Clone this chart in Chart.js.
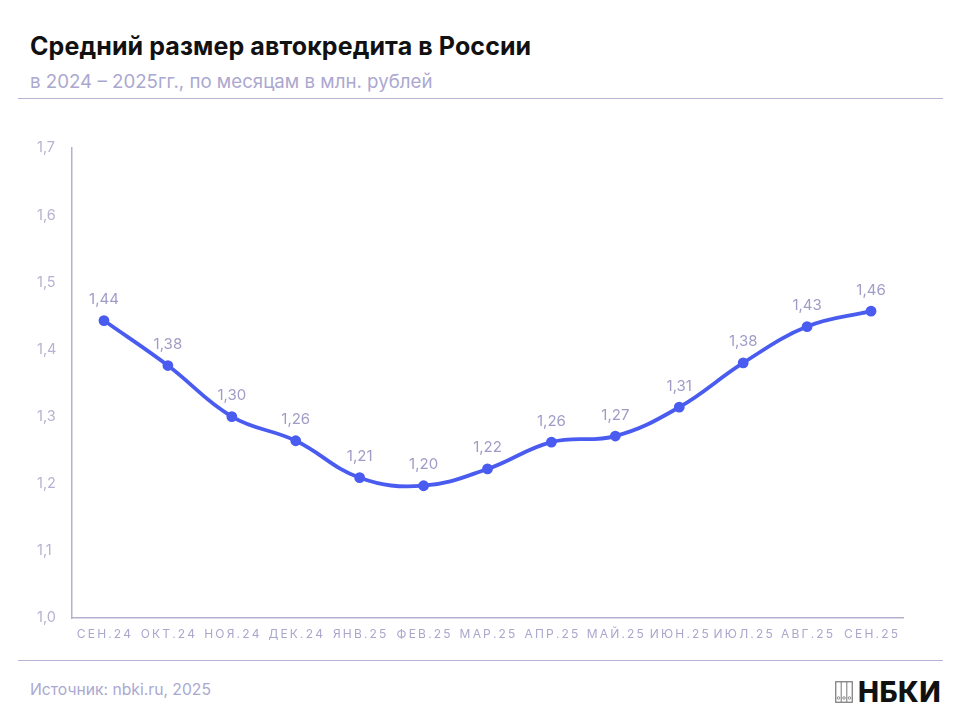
<!DOCTYPE html>
<html>
<head>
<meta charset="utf-8">
<script src="https://cdn.jsdelivr.net/npm/chart.js@4"></script>
<style>
  html, body { margin: 0; padding: 0; background: #fff; }
  body { width: 960px; height: 720px; position: relative; overflow: hidden; font-family: Inter, "Noto Sans", sans-serif; }
  .title { position: absolute; left: 30px; top: 31px; font-size: 25px; font-weight: 700; color: #111; letter-spacing: 0.1px; }
  .subtitle { position: absolute; left: 30px; top: 70px; font-size: 18.7px; color: #aba8d0; }
  .rule { position: absolute; left: 18px; width: 925px; height: 1px; background: #b6b3d4; }
  .source { position: absolute; left: 30px; top: 680px; font-size: 15.7px; color: #aba8d0; }
  .logo { position: absolute; left: 835px; top: 675px; display: flex; align-items: center; gap: 5px; }
  .logo span { font-size: 28px; font-weight: 800; color: #111; letter-spacing: 0.5px; }
  canvas { position: absolute; left: 0; top: 0; }
</style>
</head>
<body>
<div class="title">Средний размер автокредита в России</div>
<div class="subtitle">в 2024 – 2025гг., по месяцам в млн. рублей</div>
<div class="rule" style="top:98px"></div>
<div class="rule" style="top:660px"></div>
<div class="source">Источник: nbki.ru, 2025</div>
<div class="logo">
  <svg width="18" height="22" viewBox="0 0 18 22">
    <rect x="0.75" y="0.75" width="16.5" height="20.5" fill="none" stroke="#777" stroke-width="1.2"/>
    <line x1="6.2" y1="1" x2="6.2" y2="21" stroke="#777" stroke-width="1"/>
    <line x1="11.8" y1="1" x2="11.8" y2="21" stroke="#777" stroke-width="1"/>
    <circle cx="3.5" cy="17" r="1.3" fill="none" stroke="#777" stroke-width="0.8"/>
    <circle cx="9" cy="17" r="1.3" fill="none" stroke="#777" stroke-width="0.8"/>
    <circle cx="14.5" cy="17" r="1.3" fill="none" stroke="#777" stroke-width="0.8"/>
  </svg>
  <span>НБКИ</span>
</div>
<canvas id="chart" width="960" height="720"></canvas>
<script>
const months = ["СЕН.24", "ОКТ.24", "НОЯ.24", "ДЕК.24", "ЯНВ.25", "ФЕВ.25", "МАР.25", "АПР.25", "МАЙ.25", "ИЮН.25", "ИЮЛ.25", "АВГ.25", "СЕН.25"];
const avgLoan = [1.443, 1.376, 1.300, 1.264, 1.209, 1.197, 1.222, 1.262, 1.271, 1.314, 1.380, 1.434, 1.457];
const yTicks = [1.0, 1.1, 1.2, 1.3, 1.4, 1.5, 1.6, 1.7];

const lineColor = "#4a5cf0";
const softText = "#aaa7cc";

// value labels above each point
const pointLabels = {
  id: "pointLabels",
  afterDatasetsDraw(chart) {
    const ctx = chart.ctx;
    const meta = chart.getDatasetMeta(0);
    ctx.save();
    ctx.font = "15px Inter, 'Noto Sans', sans-serif";
    ctx.fillStyle = "#9f9cc6";
    ctx.textAlign = "center";
    ctx.textBaseline = "middle";
    meta.data.forEach((pt, i) => {
      const txt = avgLoan[i].toFixed(2).replace(".", ",");
      ctx.fillText(txt, pt.x, pt.y - 21);
    });
    ctx.restore();
  }
};

new Chart(document.getElementById("chart"), {
  type: "line",
  data: {
    labels: months,
    datasets: [{
      data: avgLoan,
      borderColor: lineColor,
      backgroundColor: lineColor,
      borderWidth: 3.8,
      tension: 0.4,
      pointRadius: 3.5,
      pointHoverRadius: 3.5,
      fill: false
    }]
  },
  options: {
    responsive: false,
    animation: false,
    layout: { padding: { top: 148, left: 37, right: 57, bottom: 72 } },
    plugins: { legend: { display: false }, tooltip: { enabled: false } },
    scales: {
      x: {
        offset: true,
        grid: { display: false, drawTicks: false },
        border: { color: "#b3b0d2", width: 1.5 },
        afterFit: (s) => { s.height = 30; },
        ticks: {
          padding: 9,
          color: softText,
          font: { size: 12, family: "Inter, 'Noto Sans', sans-serif" },
          maxRotation: 0,
          autoSkip: false,
          callback: (v, i) => months[i].split("").join("\u2009")
        }
      },
      y: {
        min: 1.0,
        max: 1.7,
        afterFit: (s) => { s.width = 35; },
        afterBuildTicks: (s) => { s.ticks = yTicks.map(v => ({ value: v })); },
        grid: { display: false, drawTicks: false },
        border: { color: "#b3b0d2", width: 1.5 },
        ticks: {
          crossAlign: "far",
          color: "#b5b3d1",
          font: { size: 14.5, family: "Inter, 'Noto Sans', sans-serif" },
          callback: (v) => v.toFixed(1).replace(".", ",")
        }
      }
    }
  },
  plugins: [pointLabels]
});
</script>
</body>
</html>
